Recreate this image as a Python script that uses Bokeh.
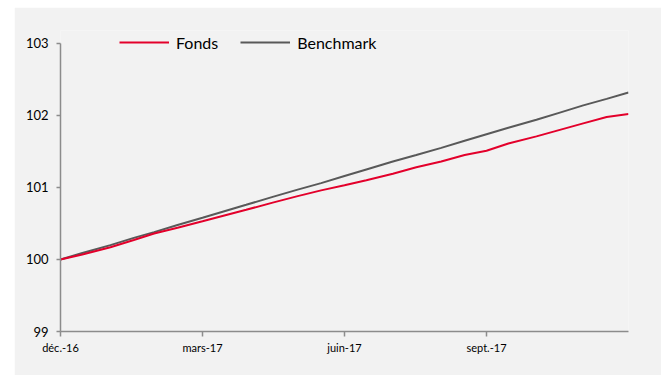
import pandas as pd
from bokeh.plotting import figure
from bokeh.models import Range1d, FixedTicker, Legend, LegendItem, DatetimeAxis
from bokeh.embed import file_html
from bokeh.resources import INLINE

dates = ["2016-12-30", "2017-01-13", "2017-01-31", "2017-02-15", "2017-02-28",
         "2017-03-15", "2017-03-31", "2017-04-14", "2017-04-28", "2017-05-15",
         "2017-05-31", "2017-06-15", "2017-06-30", "2017-07-14", "2017-07-31",
         "2017-08-15", "2017-08-31", "2017-09-15", "2017-09-29", "2017-10-13",
         "2017-10-31", "2017-11-15", "2017-11-30", "2017-12-15", "2017-12-29"]
fonds = [100.00, 100.07, 100.17, 100.27, 100.36, 100.44, 100.53, 100.61, 100.69,
         100.79, 100.88, 100.96, 101.03, 101.10, 101.19, 101.28, 101.36, 101.45,
         101.51, 101.61, 101.71, 101.80, 101.89, 101.98, 102.02]
benchmark = [100.00, 100.09, 100.20, 100.30, 100.38, 100.48, 100.58, 100.67, 100.76,
             100.87, 100.97, 101.06, 101.16, 101.25, 101.36, 101.45, 101.55, 101.65,
             101.74, 101.83, 101.94, 102.04, 102.14, 102.23, 102.32]
tick_dates = ["2016-12-30", "2017-03-31", "2017-06-30", "2017-09-29"]
tick_labels = ["déc.-16", "mars-17", "juin-17", "sept.-17"]
y_ticks = [99, 100, 101, 102, 103]
series_names = ["Fonds", "Benchmark"]

x = pd.to_datetime(dates)
BG = "#f2f2f2"
AX = "#8c8c8c"
FONT = "Lato"

p = figure(width=647, height=368, x_axis_type=None, output_backend="svg",
           toolbar_location=None, background_fill_color=BG, border_fill_color=BG,
           outline_line_color=None, min_border_left=46, min_border_right=33,
           min_border_top=23, min_border_bottom=44)
p.margin = (7, 0, 0, 14)
p.x_range = Range1d(x[0], x[-1])
p.y_range = Range1d(99, 103.18)
p.xgrid.visible = False
p.ygrid.visible = False

xaxis = DatetimeAxis()
tick_ms = [pd.Timestamp(d).value / 1e6 for d in tick_dates]
xaxis.ticker = FixedTicker(ticks=tick_ms)
xaxis.major_label_overrides = {t: l for t, l in zip(tick_ms, tick_labels)}
xaxis.axis_line_color = AX
xaxis.axis_line_width = 1.5
xaxis.major_tick_line_color = AX
xaxis.major_tick_line_width = 1.5
xaxis.major_tick_in = 0
xaxis.major_tick_out = 5
xaxis.minor_tick_line_color = None
xaxis.major_label_text_font = FONT
xaxis.major_label_text_font_size = "11px"
xaxis.major_label_text_color = "#000000"
xaxis.major_label_standoff = 4
p.add_layout(xaxis, "below")

yaxis = p.yaxis[0]
yaxis.ticker = FixedTicker(ticks=y_ticks)
yaxis.bounds = (99, 103)
yaxis.axis_line_color = AX
yaxis.axis_line_width = 1.5
yaxis.major_tick_line_color = AX
yaxis.major_tick_line_width = 1.5
yaxis.major_tick_in = 0
yaxis.major_tick_out = 4
yaxis.minor_tick_line_color = None
yaxis.major_label_text_font = FONT
yaxis.major_label_text_font_size = "13px"
yaxis.major_label_text_color = "#000000"
yaxis.major_label_standoff = 8

r_b = p.line(x, benchmark, line_color="#595959", line_width=2)
r_f = p.line(x, fonds, line_color="#e3002b", line_width=2)

legend = Legend(items=[LegendItem(label=series_names[0], renderers=[r_f]),
                       LegendItem(label=series_names[1], renderers=[r_b])],
                orientation="horizontal", location=(59, 279),
                background_fill_alpha=0, border_line_color=None,
                glyph_width=50, label_standoff=7, spacing=22, padding=0, margin=0,
                label_text_font=FONT, label_text_font_size="16px",
                label_text_color="#000000")
p.add_layout(legend, "center")

open("out.html", "w").write(file_html(p, INLINE))
